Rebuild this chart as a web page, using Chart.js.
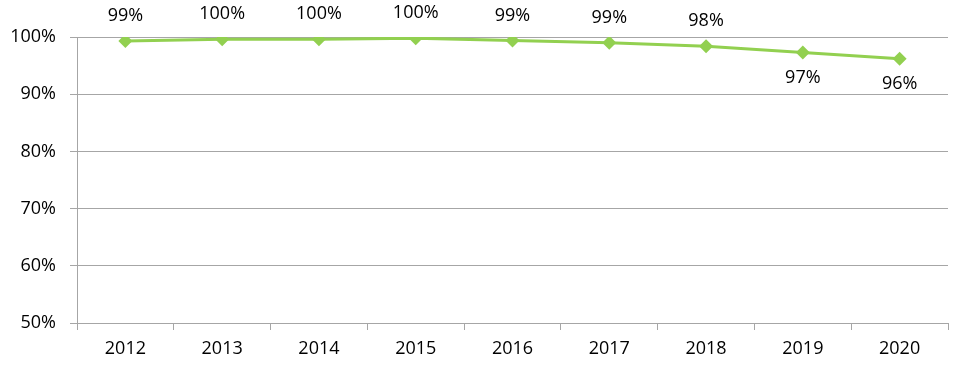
<!DOCTYPE html>
<html>
<head>
<meta charset="utf-8">
<script src="https://cdn.jsdelivr.net/npm/chart.js@4/dist/chart.umd.min.js"></script>
<style>
  html, body { margin: 0; padding: 0; background: #fff; }
  #wrap { width: 964px; height: 379px; position: relative; }
</style>
</head>
<body>
<div id="wrap"><canvas id="c" width="964" height="379"></canvas></div>
<script>
const years = ['2012','2013','2014','2015','2016','2017','2018','2019','2020'];
const shareValues = [99.3, 99.6, 99.6, 99.8, 99.4, 99.0, 98.4, 97.3, 96.2];
const yTicks = [50, 60, 70, 80, 90, 100];
const labelSide = ['above','above','above','above','above','above','above','below','below'];

const FONT = "'Open Sans', 'Noto Sans', sans-serif";

const valueLabels = {
  id: 'valueLabels',
  afterDatasetsDraw(chart) {
    const ctx = chart.ctx;
    const meta = chart.getDatasetMeta(0);
    ctx.save();
    ctx.font = '18px ' + FONT;
    ctx.fillStyle = '#000';
    ctx.textAlign = 'center';
    ctx.textBaseline = 'middle';
    meta.data.forEach((pt, i) => {
      const v = chart.data.datasets[0].data[i];
      const dy = labelSide[i] === 'below' ? 25 : -25;
      ctx.fillText(Math.round(v) + '%', pt.x, pt.y + dy);
    });
    ctx.restore();
  }
};

new Chart(document.getElementById('c'), {
  type: 'line',
  data: {
    labels: years,
    datasets: [{
      data: shareValues,
      borderColor: '#92D050',
      backgroundColor: '#92D050',
      borderWidth: 3,
      pointStyle: 'rectRot',
      pointRadius: 7,
      pointHoverRadius: 7,
      pointBorderWidth: 0,
      tension: 0
    }]
  },
  options: {
    responsive: false,
    animation: false,
    events: [],
    layout: { padding: { left: 0, right: 16, top: 37, bottom: 0 } },
    plugins: { legend: { display: false }, tooltip: { enabled: false } },
    scales: {
      x: {
        offset: true,
        grid: { offset: true, display: true, drawOnChartArea: false, drawTicks: true, tickLength: 7, color: '#a6a6a6', lineWidth: 1 },
        border: { display: true, color: '#a6a6a6', width: 1 },
        ticks: { font: { family: FONT, size: 18 }, color: '#000', padding: 8, maxRotation: 0 },
        afterFit(scale) { scale.height = 56; }
      },
      y: {
        min: 50, max: 100,
        afterBuildTicks(scale) { scale.ticks = yTicks.map(v => ({ value: v })); },
        grid: { color: '#a6a6a6', lineWidth: 1, drawTicks: true, tickLength: 7 },
        border: { display: true, color: '#a6a6a6', width: 1 },
        ticks: { font: { family: FONT, size: 18 }, color: '#000', padding: 14, callback: v => v + '%' },
        afterFit(scale) { scale.width = 77; }
      }
    }
  },
  plugins: [valueLabels]
});
</script>
</body>
</html>
